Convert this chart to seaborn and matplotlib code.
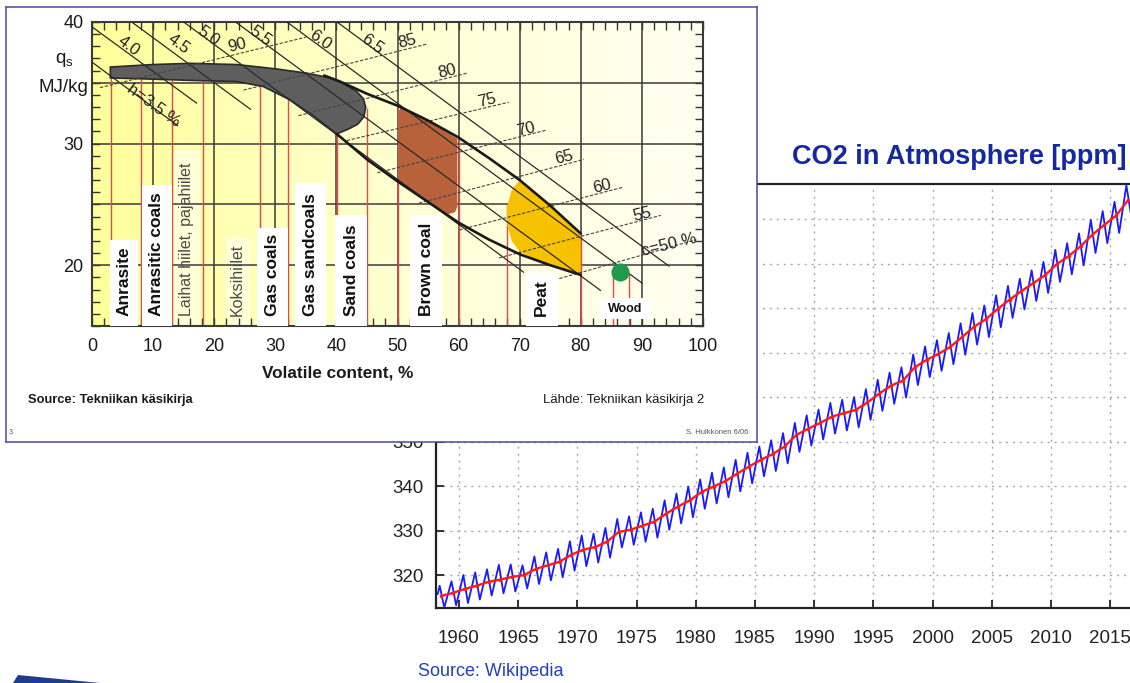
import matplotlib
matplotlib.use("Agg")
import numpy as np
import pandas as pd
import matplotlib.pyplot as plt
from matplotlib.colors import LinearSegmentedColormap
from matplotlib.patches import Rectangle, Polygon
import seaborn as sns

# ---------------- CO2 chart data ----------------
co2_years = list(range(1958, 2017))
co2_annual_mean = [315.3, 316.0, 316.9, 317.6, 318.5, 319.0, 319.6, 320.0, 321.4, 322.2,
                   323.0, 324.6, 325.7, 326.3, 327.5, 329.7, 330.2, 331.1, 332.0, 333.8,
                   335.4, 336.8, 338.7, 339.9, 341.1, 342.8, 344.4, 345.9, 347.2, 348.9,
                   351.5, 352.9, 354.2, 355.6, 356.4, 357.1, 358.8, 360.8, 362.6, 363.7,
                   366.7, 368.4, 369.7, 371.3, 373.5, 375.8, 377.5, 379.8, 381.9, 383.8,
                   385.6, 387.4, 389.9, 391.7, 393.9, 396.5, 398.7, 400.8, 404.2]
co2_spring_peak = [317.6, 318.6, 320.0, 320.6, 321.3, 322.3, 322.4, 322.2, 324.2, 325.1,
                   325.9, 327.6, 328.9, 329.3, 330.6, 332.6, 333.2, 334.1, 334.9, 336.8,
                   338.3, 339.9, 341.5, 343.0, 344.2, 345.9, 347.5, 348.9, 350.3, 351.9,
                   354.2, 355.9, 357.2, 358.7, 359.4, 360.0, 361.8, 363.9, 365.5, 366.7,
                   369.6, 371.4, 372.8, 374.4, 376.6, 378.9, 380.6, 382.9, 385.0, 386.6,
                   388.5, 390.4, 393.1, 394.6, 396.8, 399.8, 401.8, 403.9, 407.6]
co2_autumn_trough = [312.7, 313.2, 313.7, 314.5, 315.4, 315.9, 316.3, 317.0, 318.0, 318.8,
                     319.5, 321.0, 322.0, 322.8, 323.9, 326.2, 326.8, 327.5, 328.4, 330.2,
                     331.6, 333.0, 334.9, 336.1, 337.5, 338.8, 340.6, 342.2, 343.4, 345.1,
                     347.7, 349.1, 350.5, 351.8, 352.5, 353.2, 354.9, 356.9, 358.5, 359.9,
                     362.7, 364.5, 365.9, 367.4, 369.5, 371.8, 373.5, 375.7, 377.8, 379.7,
                     381.6, 383.4, 385.9, 387.6, 389.6, 392.4, 394.6, 396.9, 401.0]
co2_first_month = (1958.2, 315.7)
co2_year_ticks = [1960, 1965, 1970, 1975, 1980, 1985, 1990, 1995, 2000, 2005, 2010, 2015]
co2_ppm_ticks = [320, 330, 340, 350, 360, 370, 380, 390, 400]
# only these tick labels are visible (the rest lie under the slide overlay)
co2_ppm_labels = ["320", "330", "340", "350", "", "", "", "", ""]

# ---------------- coal chart data ----------------
volatile_ticks = [0, 10, 20, 30, 40, 50, 60, 70, 80, 90, 100]
qs_ticks = [20, 30, 40]
qs_grid = [20, 25, 30, 35]

band_x = [3.0, 10.0, 16.0, 23.7, 30.0, 35.1, 38.5, 40.6, 43.3, 44.4, 44.8,
          44.5, 43.5, 42.0, 40.05,
          38.5, 36.2, 32.4, 28.0, 23.7, 16.0, 10.0, 3.0]
band_y = [36.3, 36.5, 36.6, 36.5, 36.15, 35.8, 35.45, 35.1, 34.3, 33.7, 33.0,
          32.2, 31.6, 31.2, 30.8,
          31.4, 32.3, 33.6, 34.7, 35.1, 35.2, 35.3, 35.4]
brown_x = [50.1, 50.6, 55.0, 59.8, 59.8, 59.4, 58.3, 55.0, 50.1]
brown_y = [32.6, 33.0, 31.9, 30.4, 24.8, 24.35, 24.2, 25.2, 27.0]
peat_x = [70.0, 68.7, 67.9, 67.9, 68.7, 70.0, 72.5, 75.0, 77.5, 80.0, 80.0, 77.5, 75.0, 72.5]
peat_y = [27.0, 26.2, 24.8, 23.4, 22.0, 21.1, 20.5, 20.0, 19.6, 19.2, 22.6, 23.8, 24.9, 26.0]
upper_x = [38.0, 40.6, 45.0, 50.1, 55.0, 60.0, 65.0, 70.0, 75.0, 80.0]
upper_y = [35.6, 35.1, 34.1, 33.1, 31.9, 30.5, 28.8, 27.0, 24.9, 22.6]
lower_x = [40.05, 45.0, 50.0, 55.0, 60.0, 65.0, 70.0, 75.0, 80.0]
lower_y = [30.8, 28.7, 26.9, 25.2, 23.5, 22.1, 20.9, 20.0, 19.2]

# hydrogen lines h (solid) : start and end points
h_labels = ["h=3.5 %", "4.0", "4.5", "5.0", "5.5", "6.0", "6.5"]
h_x0 = [0.0, 0.0, 6.5, 15.0, 23.5, 31.9, 40.1]
h_y0 = [36.7, 39.6, 40.0, 40.0, 40.0, 40.0, 40.0]
h_x1 = [14.1, 17.2, 26.0, 70.7, 83.3, 90.1, 94.5]
h_y1 = [31.45, 33.3, 32.8, 19.4, 17.9, 18.5, 19.9]
h_lab_x = [10.0, 6.0, 14.1, 19.1, 27.5, 37.4, 45.8]
h_lab_y = [33.1, 38.0, 38.2, 38.8, 38.8, 38.5, 38.2]

# carbon lines c (dashed)
c_labels = ["90", "85", "80", "75", "70", "65", "60", "55", "c=50 %"]
c_x0 = [1.3, 24.8, 33.8, 41.7, 46.7, 53.5, 60.1, 66.6, 76.5]
c_y0 = [34.6, 34.4, 32.3, 30.25, 27.6, 25.1, 22.9, 20.6, 18.9]
c_x1 = [35.0, 54.9, 61.4, 68.2, 74.3, 80.5, 86.8, 93.1, 98.9]
c_y1 = [38.75, 38.2, 35.8, 33.4, 31.1, 28.7, 26.4, 24.1, 22.1]
c_lab_x = [23.7, 51.6, 58.1, 64.7, 71.0, 77.3, 83.5, 90.1, 94.5]
c_lab_y = [38.1, 38.4, 35.9, 33.55, 31.2, 28.9, 26.45, 24.2, 21.7]

# red category lines
red_x = [3.1, 8.0, 13.1, 18.1, 27.5, 32.1, 40.1, 45.0, 50.0, 60.0, 68.0, 80.0, 85.3, 87.9]
red_top = [35.4, 35.3, 35.2, 35.2, 36.4, 34.0, 30.9, 32.9, 32.9, 30.5, 25.0, 22.6, 19.3, 19.3]

# fuel labels (bold, white boxes)
fuel_names = ["Anrasite", "Anrasitic coals", "Gas coals", "Gas sandcoals", "Sand coals", "Brown coal", "Peat"]
fuel_box_x0 = [3.0, 8.2, 27.0, 33.2, 39.8, 52.0, 71.0]
fuel_box_x1 = [7.5, 13.1, 32.0, 38.3, 45.0, 57.3, 76.2]
fuel_box_top = [22.1, 26.6, 23.1, 26.75, 24.1, 24.1, 19.35]
fuel_text_x = [5.2, 10.5, 29.5, 35.8, 42.4, 54.7, 73.6]
# regular (non-bold) finnish labels
fin_names = ["Laihat hiilet, pajahiilet", "Koksihiilet"]
fin_box_x0 = [13.4, 21.9]
fin_box_x1 = [17.7, 25.9]
fin_box_top = [29.5, 22.3]
fin_text_x = [15.5, 23.8]
wood_point = (86.5, 19.4)
wood_box = (83.1, 15.55, 8.4, 1.75)

# ---------------- figure ----------------
sns.set_theme(style="white")
plt.rcParams['font.family'] = ['Liberation Sans', 'DejaVu Sans']

W, H = 1130, 683
fig = plt.figure(figsize=(W / 100, H / 100), dpi=100)
fig.patch.set_facecolor("white")


def fx(px):
    return px / W


def fy(py):
    return 1 - py / H


# ---- CO2 axes ----
ax2 = fig.add_axes([fx(436), fy(608), (1133 - 436) / W, (608 - 184) / H], zorder=1)
ax2.set_facecolor("white")
blue_x = [co2_first_month[0]]
blue_y = [co2_first_month[1]]
for yr, pk, tr in zip(co2_years, co2_spring_peak, co2_autumn_trough):
    blue_x += [yr + 0.37, yr + 0.76]
    blue_y += [pk, tr]
blue_df = pd.DataFrame({"t": blue_x, "ppm": blue_y})
red_df = pd.DataFrame({"t": [y + 0.5 for y in co2_years], "ppm": co2_annual_mean})
sns.lineplot(data=blue_df, x="t", y="ppm", ax=ax2, color="#1a1aff", lw=1.3,
             estimator=None, sort=False, zorder=3)
sns.lineplot(data=red_df, x="t", y="ppm", ax=ax2, color="#ff1a1a", lw=1.7,
             estimator=None, sort=False, marker="o", markersize=2.5,
             markeredgewidth=0, zorder=4)
ax2.set_xlim(1958.06, 2016.93)
ax2.set_ylim(312.6, 407.9)
ax2.set_xticks(co2_year_ticks)
ax2.set_yticks(co2_ppm_ticks)
ax2.set_yticklabels(co2_ppm_labels)
ax2.set_xlabel("")
ax2.set_ylabel("")
ax2.grid(True, color="#a8a8a8", linestyle=(0, (1.5, 3.5)), linewidth=1.0)
ax2.tick_params(axis="x", direction="in", length=6, width=1.3, labelsize=13.5,
                pad=16, colors="#222222", bottom=True)
ax2.tick_params(axis="y", direction="in", length=6, width=1.3, labelsize=13.5,
                pad=9, colors="#222222", left=True)
for s in ax2.spines.values():
    s.set_color("#222222")
    s.set_linewidth(1.6)

fig.text(fx(1127), fy(157), "CO2 in Atmosphere [ppm]", ha="right", va="center",
         fontsize=19.5, fontweight="bold", color="#1428a0", zorder=10)
fig.text(fx(418), fy(672), "Source: Wikipedia", ha="left", va="center",
         fontsize=13, color="#2040c0", zorder=10)

# ---- overlay slide box ----
box = fig.add_axes([fx(6), fy(442), (757 - 6) / W, (442 - 7) / H], zorder=5)
box.set_facecolor("white")
box.set_xticks([])
box.set_yticks([])
for s in box.spines.values():
    s.set_color("#4a4a9a")
    s.set_linewidth(1.1)

# ---- coal axes ----
ax1 = fig.add_axes([fx(92), fy(326), (703 - 92) / W, (326 - 22) / H], zorder=6)
ax1.set_xlim(0, 100)
ax1.set_ylim(15, 40)
cmap = LinearSegmentedColormap.from_list("bg", ["#ffff9a", "#ffffd2", "#fffff2"])
ax1.imshow(np.linspace(0, 1, 256).reshape(1, -1), extent=[0, 100, 15, 40],
           aspect="auto", cmap=cmap, zorder=0, interpolation="bicubic")

# light boxes for finnish labels
for x0, x1, top in zip(fin_box_x0, fin_box_x1, fin_box_top):
    ax1.add_patch(Rectangle((x0, 15), x1 - x0, top - 15, facecolor="#ffffd8",
                            edgecolor="none", zorder=0.5))

# grid
ax1.vlines(volatile_ticks[1:-1], 15, 40, colors="#3a3a3a", lw=1.1, zorder=1)
ax1.hlines(qs_grid, 0, 100, colors="#3a3a3a", lw=1.1, zorder=1)

# red lines
ax1.vlines(red_x, 15, red_top, colors="#e5484a", lw=1.0, zorder=2)

# regions
ax1.add_patch(Polygon(list(zip(band_x, band_y)), closed=True, facecolor="#5e5e5e",
                      edgecolor="#2a2a2a", lw=1.2, zorder=3))
ax1.add_patch(Polygon(list(zip(brown_x, brown_y)), closed=True, facecolor="#b8623c",
                      edgecolor="none", zorder=3))
ax1.add_patch(Polygon(list(zip(peat_x, peat_y)), closed=True, facecolor="#f6c200",
                      edgecolor="none", zorder=3))

# h lines
for x0, y0, x1, y1 in zip(h_x0, h_y0, h_x1, h_y1):
    ax1.plot([x0, x1], [y0, y1], color="#2a2a2a", lw=0.9, zorder=4, solid_capstyle="butt")
for lab, lx, ly in zip(h_labels, h_lab_x, h_lab_y):
    ax1.text(lx, ly, lab, rotation=-36, rotation_mode="anchor", ha="center",
             va="center", fontsize=12, color="#222222", zorder=7)
# c lines
for x0, y0, x1, y1 in zip(c_x0, c_y0, c_x1, c_y1):
    ax1.plot([x0, x1], [y0, y1], color="#444444", lw=0.8, ls=(0, (3, 1.5)), zorder=4)
for lab, lx, ly in zip(c_labels, c_lab_x, c_lab_y):
    ax1.text(lx, ly, lab, rotation=14, rotation_mode="anchor", ha="center",
             va="center", fontsize=12, color="#222222", zorder=7)

# boundary curves
ax1.plot(upper_x, upper_y, color="#1a1a1a", lw=1.9, zorder=5)
ax1.plot(lower_x, lower_y, color="#1a1a1a", lw=1.9, zorder=5)

# white label boxes
for name, x0, x1, top, tx in zip(fuel_names, fuel_box_x0, fuel_box_x1, fuel_box_top, fuel_text_x):
    ax1.add_patch(Rectangle((x0, 15), x1 - x0, top - 15, facecolor="white",
                            edgecolor="none", zorder=6))
    ax1.text(tx, 15.8, name, rotation=90, ha="center", va="bottom", fontsize=12.5,
             fontweight="bold", color="#111111", zorder=7)
for name, tx in zip(fin_names, fin_text_x):
    ax1.text(tx, 15.8, name, rotation=90, ha="center", va="bottom", fontsize=11.5,
             color="#4a4a4a", zorder=7)

# wood
ax1.add_patch(Rectangle(wood_box[:2], wood_box[2], wood_box[3], facecolor="white",
                        edgecolor="none", zorder=6))
ax1.text(wood_box[0] + wood_box[2] / 2, wood_box[1] + wood_box[3] / 2, "Wood",
         ha="center", va="center", fontsize=9, fontweight="bold", color="#111111", zorder=7)
sns.scatterplot(x=[wood_point[0]], y=[wood_point[1]], ax=ax1, s=170, color="#1f9a4c",
                edgecolor="none", zorder=8)

ax1.set_xticks(volatile_ticks)
ax1.set_yticks(qs_ticks)
ax1.set_xticks(np.arange(0, 101, 2), minor=True)
ax1.set_yticks(np.arange(15, 41, 1), minor=True)
ax1.tick_params(which="both", direction="in", top=True, right=True, bottom=True,
                left=True, colors="#333333", width=1.0)
ax1.tick_params(which="major", length=6)
ax1.tick_params(which="minor", length=6)
ax1.tick_params(axis="x", labelsize=13, pad=9, labelcolor="#1a1a1a")
ax1.tick_params(axis="y", labelsize=13, pad=6, labelcolor="#1a1a1a")
ax1.set_xlabel("")
ax1.set_ylabel("")
ax1.grid(False)
for s in ax1.spines.values():
    s.set_color("#3a3a3a")
    s.set_linewidth(1.5)

# texts in the overlay
fig.text(fx(64), fy(60), r"$\mathregular{q_s}$", ha="center", va="center",
         fontsize=13.5, color="#1a1a1a", zorder=10)
fig.text(fx(88), fy(88), "MJ/kg", ha="right", va="center", fontsize=13.5,
         color="#1a1a1a", zorder=10)
fig.text(fx(338), fy(373), "Volatile content, %", ha="center", va="center",
         fontsize=12.3, fontweight="bold", color="#1a1a1a", zorder=10)
fig.text(fx(28), fy(400), "Source: Tekniikan käsikirja", ha="left", va="center",
         fontsize=9.3, fontweight="bold", color="#1a1a1a", zorder=10)
fig.text(fx(543), fy(400), "Lähde: Tekniikan käsikirja 2", ha="left", va="center",
         fontsize=9.5, color="#1a1a1a", zorder=10)
fig.text(fx(748), fy(432), "S. Hulkkonen 6/06", ha="right", va="center",
         fontsize=5.5, color="#555555", zorder=10)
fig.text(fx(9), fy(432), "3", ha="left", va="center", fontsize=5, color="#555555", zorder=10)

# slide logo fragment bottom-left
fig.patches.append(Polygon([(fx(13), fy(683)), (fx(18), fy(675)), (fx(100), fy(683))],
                           closed=True, transform=fig.transFigure, facecolor="#1f3c8c",
                           edgecolor="none", zorder=10))

fig.savefig("out.png", dpi=100)
